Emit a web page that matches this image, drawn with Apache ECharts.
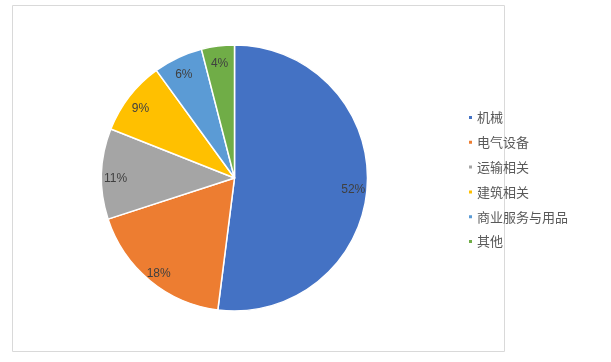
<!DOCTYPE html>
<html><head><meta charset="utf-8">
<script src="https://cdn.jsdelivr.net/npm/echarts@6/dist/echarts.min.js"></script>
<style>html,body{margin:0;padding:0;background:#fff}#c{width:611px;height:362px}</style>
</head><body><div id="c"></div>
<script>
var categories = ['机械','电气设备','运输相关','建筑相关','商业服务与用品','其他'];
var values = [52, 18, 11, 9, 6, 4];
var colors = ['#4472C4','#ED7D31','#A5A5A5','#FFC000','#5B9BD5','#70AD47'];

var data = categories.map(function(n,i){return {name:n, value:values[i], itemStyle:{color:colors[i]}};});
var chart = echarts.init(document.getElementById('c'));
chart.setOption({
  animation:false,
  color: colors,
  graphic:[{type:'rect', shape:{x:12.5,y:5.5,width:492,height:346}, style:{fill:'none',stroke:'#d9d9d9',lineWidth:1}, silent:true}],
  legend:{
    orient:'vertical', left:462, top:106, icon:'rect', itemWidth:5, itemHeight:5, itemGap:11.8,
    textStyle:{color:'#595959', fontSize:13, fontFamily:'Noto Sans CJK SC', padding:[0,0,0,-1]},
    data: categories
  },
  series:[
    {type:'pie', center:[234.5,178], radius:[0,133], startAngle:90, clockwise:true,
     data:data, label:{show:false}, labelLine:{show:false},
     itemStyle:{borderColor:'#fff', borderWidth:1.5}, emphasis:{disabled:true}},
    {type:'pie', center:[234.5,178], radius:[99,133], startAngle:90, clockwise:true, silent:true,
     data:data.map(function(d){return {name:d.name,value:d.value,itemStyle:{color:'rgba(0,0,0,0)'}};}),
     label:{show:true, position:'inside', formatter:'{c}%', color:'#404040', fontSize:12, fontFamily:'Liberation Sans', offset:[0,4]},
     labelLine:{show:false}, itemStyle:{borderWidth:0}, emphasis:{disabled:true}}
  ]
});
</script></body></html>
